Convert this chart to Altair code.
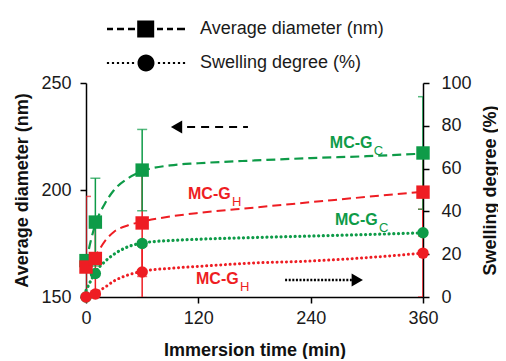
import altair as alt
import pandas as pd

# ---------------- data ----------------
times = [0, 10, 60, 360]
gc_diam = [167.0, 185.0, 209.3, 217.3]
gc_diam_err = [1.5, 20.5, 19.0, 26.3]
gh_diam = [164.0, 168.0, 184.6, 199.0]
gh_diam_err = [33.0, 19.0, 25.0, 20.5]
gc_swell = [0.0, 11.0, 25.0, 30.0]
gh_swell = [0.0, 1.4, 11.7, 20.5]
gh_swell_err = [0.0, 1.4, 12.0, 20.5]

# fitted trend curves
curve_t = [0, 5, 10, 20, 30, 45, 60, 90, 120, 180, 240, 300, 360]
gc_diam_fit = [166.0, 176.0, 184.0, 193.5, 200.0, 205.5, 208.8, 211.5, 212.5, 213.8, 214.9, 215.8, 217.0]
gh_diam_fit = [162.0, 165.5, 169.0, 176.0, 180.5, 183.5, 185.2, 187.6, 189.3, 191.8, 194.3, 196.8, 199.2]
gc_swell_fit = [3.0, 7.5, 11.5, 16.5, 20.0, 23.5, 25.2, 26.4, 27.0, 27.8, 28.5, 29.2, 30.0]
gh_swell_fit = [0.0, 1.0, 2.0, 4.5, 7.5, 10.3, 12.0, 13.4, 14.3, 15.9, 16.8, 18.4, 20.5]

# annotations
ann_main = ["MC-G", "MC-G", "MC-G", "MC-G"]
ann_sub = ["C", "H", "C", "H"]
ann_t = [260.5, 109.0, 266.0, 117.5]
ann_nm = [222.0, 198.1, 186.0, 158.2]
ann_series = ["gc", "gh", "gc", "gh"]

arrow_left_t = [108.0, 173.0]
arrow_left_nm = [229.4, 229.4]
arrow_left_head = [96.7]
arrow_right_t = [212.7, 284.0]
arrow_right_nm = [157.9, 157.9]
arrow_right_head = [289.8]

legend_items = ["Average diameter (nm)", "Swelling degree (%)"]

x_ticks = [0, 120, 240, 360]
left_ticks = [150, 200, 250]
right_ticks = [0, 20, 40, 60, 80, 100]

# ---------------- styling ----------------
RED = "#ee1d23"
GREEN = "#0e9b48"
FONT = "Liberation Sans, Arial, Helvetica, sans-serif"
W, H = 337, 214

xs = alt.Scale(domain=[0, 360], nice=False, zero=False)
yds = alt.Scale(domain=[150, 250], nice=False, zero=False)
yss = alt.Scale(domain=[0, 100], nice=False, zero=False)

x_axis = alt.Axis(values=x_ticks, title="Immersion time (min)", grid=False,
                  labelFontSize=18, titleFontSize=18, titleFontWeight="bold",
                  labelFont=FONT, titleFont=FONT, labelColor="#1a1a1a", titleColor="#111",
                  tickSize=6, labelPadding=6, domainColor="black", tickColor="black",
                  domainWidth=1.5, tickWidth=1.5, labelFlush=False, titleY=53,
                  titleBaseline="middle")
left_axis = alt.Axis(orient="left", values=left_ticks, title="Average diameter (nm)", grid=False,
                     labelFontSize=18, titleFontSize=18, titleFontWeight="bold",
                     labelFont=FONT, titleFont=FONT, labelColor="#1a1a1a", titleColor="#111",
                     tickSize=6, labelPadding=9, domainColor="black", tickColor="black",
                     domainWidth=1.5, tickWidth=1.5, labelFlush=False,
                     titleAngle=270, titleX=-64, titleY=H / 2, titleAlign="center",
                     titleBaseline="middle")
right_axis = alt.Axis(orient="right", values=right_ticks, title="Swelling degree (%)", grid=False,
                      labelFontSize=18, titleFontSize=18, titleFontWeight="bold",
                      labelFont=FONT, titleFont=FONT, labelColor="#1a1a1a", titleColor="#111",
                      tickSize=6, labelPadding=12, domainColor="black", tickColor="black",
                      domainWidth=1.5, tickWidth=1.5, labelFlush=False,
                      titleAngle=270, titleX=67, titleY=H / 2, titleAlign="center",
                      titleBaseline="middle")

X = alt.X("t:Q", scale=xs, axis=x_axis)


def yd(field, axis=None):
    return alt.Y(f"{field}:Q", scale=yds, axis=axis)


def ys(field, axis=None):
    return alt.Y(f"{field}:Q", scale=yss, axis=axis)


def err_df(vals, errs):
    return pd.DataFrame({"t": times,
                         "lo": [v - e for v, e in zip(vals, errs)],
                         "hi": [v + e for v, e in zip(vals, errs)]})


def errbars(vals, errs, color, yfun):
    d = err_df(vals, errs)
    base = alt.Chart(d)
    rule = base.mark_rule(color=color, strokeWidth=1.5, clip=True).encode(
        x=X, y=yfun("lo"), y2="hi:Q")
    cap_hi = base.mark_tick(color=color, orient="horizontal", size=10, thickness=1.5, clip=True).encode(
        x=X, y=yfun("hi"))
    cap_lo = base.mark_tick(color=color, orient="horizontal", size=10, thickness=1.5, clip=True).encode(
        x=X, y=yfun("lo"))
    return [rule, cap_hi, cap_lo]


layers = []
layers += errbars(gh_diam, gh_diam_err, RED, yd)
layers += errbars(gh_swell, gh_swell_err, RED, ys)
layers += errbars(gc_diam, gc_diam_err, GREEN, yd)

# trend curves
curves = pd.DataFrame({"t": curve_t, "gc_d": gc_diam_fit, "gh_d": gh_diam_fit,
                       "gc_s": gc_swell_fit, "gh_s": gh_swell_fit})
cb = alt.Chart(curves)
layers.append(cb.mark_line(color=RED, strokeWidth=2, strokeDash=[9, 5], interpolate="monotone").encode(x=X, y=yd("gh_d")))
layers.append(cb.mark_line(color=GREEN, strokeWidth=2.2, strokeDash=[9, 5], interpolate="monotone").encode(x=X, y=yd("gc_d")))
layers.append(cb.mark_line(color=RED, strokeWidth=3, strokeDash=[0.1, 4.6], strokeCap="round", interpolate="monotone").encode(x=X, y=ys("gh_s")))
layers.append(cb.mark_line(color=GREEN, strokeWidth=3.2, strokeDash=[0.1, 4.6], strokeCap="round", interpolate="monotone").encode(x=X, y=ys("gc_s")))

# arrows
al = pd.DataFrame({"t": arrow_left_t, "nm": arrow_left_nm})
ar = pd.DataFrame({"t": arrow_right_t, "nm": arrow_right_nm})
layers.append(alt.Chart(al).mark_line(color="black", strokeWidth=2, strokeDash=[8, 6]).encode(x=X, y=yd("nm")))
layers.append(alt.Chart(ar).mark_line(color="black", strokeWidth=2.5, strokeDash=[2, 1.6]).encode(x=X, y=yd("nm")))
layers.append(alt.Chart(pd.DataFrame({"t": arrow_left_head, "nm": arrow_left_nm[:1]})).mark_point(
    shape="triangle-left", filled=True, color="black", size=170, opacity=1).encode(x=X, y=yd("nm")))
layers.append(alt.Chart(pd.DataFrame({"t": arrow_right_head, "nm": arrow_right_nm[:1]})).mark_point(
    shape="triangle-right", filled=True, color="black", size=170, opacity=1).encode(x=X, y=yd("nm")))

# markers
pts = pd.DataFrame({"t": times, "gc_d": gc_diam, "gh_d": gh_diam, "gc_s": gc_swell, "gh_s": gh_swell})
pb = alt.Chart(pts)
layers.append(pb.mark_point(shape="square", filled=True, color=GREEN, size=180, opacity=1).encode(x=X, y=yd("gc_d", left_axis)))
layers.append(pb.mark_point(shape="circle", filled=True, color=GREEN, size=130, opacity=1).encode(x=X, y=ys("gc_s", right_axis)))
layers.append(pb.mark_point(shape="square", filled=True, color=RED, size=180, opacity=1).encode(x=X, y=yd("gh_d")))
layers.append(pb.mark_point(shape="circle", filled=True, color=RED, size=130, opacity=1).encode(x=X, y=ys("gh_s")))

# annotations
ann = pd.DataFrame({"t": ann_t, "nm": ann_nm, "main": ann_main, "sub": ann_sub, "s": ann_series})
col = alt.Color("s:N", scale=alt.Scale(domain=["gc", "gh"], range=[GREEN, RED]), legend=None)
ab = alt.Chart(ann)
layers.append(ab.mark_text(align="left", baseline="middle", font=FONT, fontSize=16, fontWeight="bold").encode(
    x=X, y=yd("nm"), text="main:N", color=col))
layers.append(ab.mark_text(align="left", baseline="middle", font=FONT, fontSize=13, dx=44, dy=8).encode(
    x=X, y=yd("nm"), text="sub:N", color=col))

# legend (custom symbols: dashed line + square, dotted line + circle)
def rect(x0, x1, y0, y1):
    return f"M{x0},{y0}H{x1}V{y1}H{x0}Z"

t = 0.12
p1 = " ".join([rect(-3.9, -3.3, -t, t), rect(-2.9, -2.2, -t, t), rect(-1.8, -1.1, -t, t),
               rect(-0.88, 0.82, -0.85, 0.85),
               rect(1.1, 1.7, -t, t), rect(2.1, 2.7, -t, t), rect(3.1, 3.9, -t, t)])
dots = [-3.8, -3.3, -2.8, -2.3, -1.8, -1.3, 1.3, 1.8, 2.3, 2.8, 3.3, 3.8]
p2 = " ".join([rect(d - 0.11, d + 0.11, -0.11, 0.11) for d in dots] +
              ["M-0.85,0A0.85,0.85 0 1,0 0.85,0A0.85,0.85 0 1,0 -0.85,0Z"])

leg = pd.DataFrame({"item": legend_items})
layers.append(alt.Chart(leg).mark_point(filled=True, color="black", size=400, opacity=0).encode(
    shape=alt.Shape("item:N", scale=alt.Scale(domain=legend_items, range=[p1, p2]),
                    legend=alt.Legend(orient="none", legendX=50, legendY=-64, title=None,
                                      direction="vertical", labelFontSize=18, labelFont=FONT,
                                      labelColor="#1a1a1a", symbolSize=400, symbolFillColor="black",
                                      symbolStrokeWidth=0, labelOffset=44, rowPadding=15,
                                      padding=0, offset=0, labelLimit=400))))

chart = alt.layer(*layers).resolve_scale(y="independent").properties(
    width=W, height=H,
    padding={"left": 78, "top": 75, "right": 75, "bottom": 62},
    autosize=alt.AutoSizeParams(type="none"),
).configure_view(stroke=None)

chart.save("out.html", embed_options={"renderer": "svg", "actions": False})
